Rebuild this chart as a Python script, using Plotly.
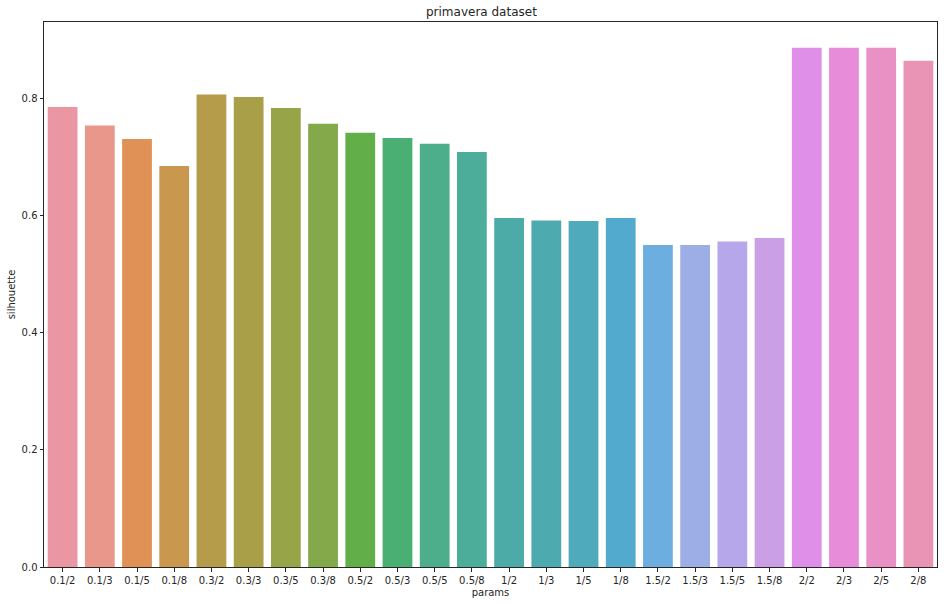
import plotly.graph_objects as go

# silhouette score for each parameter combination
params = ["0.1/2", "0.1/3", "0.1/5", "0.1/8", "0.3/2", "0.3/3", "0.3/5", "0.3/8",
          "0.5/2", "0.5/3", "0.5/5", "0.5/8", "1/2", "1/3", "1/5", "1/8",
          "1.5/2", "1.5/3", "1.5/5", "1.5/8", "2/2", "2/3", "2/5", "2/8"]
silhouette = [0.786, 0.754, 0.731, 0.685, 0.807, 0.803, 0.784, 0.757,
              0.742, 0.733, 0.723, 0.709, 0.596, 0.592, 0.591, 0.596,
              0.550, 0.550, 0.556, 0.562, 0.887, 0.887, 0.887, 0.865]
y_ticks = [0.0, 0.2, 0.4, 0.6, 0.8]

# husl-like palette, desaturated as seaborn does
bar_colors = ["#EA96A3", "#E8978A", "#E09155", "#C9974D", "#B59C4A", "#A89F48",
              "#98A448", "#84A94A", "#62AE48", "#4AAF73", "#4CAE8A", "#4DAD9B",
              "#4CABA6", "#4DABAF", "#4FAABB", "#52ABCE", "#6DAEE1", "#9DADE6",
              "#B5A7EA", "#CA9FE6", "#E08FE8", "#E68CD8", "#E990C4", "#E994B4"]

fig = go.Figure()

fig.add_trace(
    go.Bar(
        x=params,
        y=silhouette,
        width=0.8,
        marker=dict(color=bar_colors, line=dict(width=0)),
        hovertemplate='<b>%{x}</b><br>silhouette: %{y:.3f}<extra></extra>'
    )
)

fig.update_layout(
    width=944,
    height=604,
    paper_bgcolor='white',
    plot_bgcolor='white',
    font=dict(family="DejaVu Sans", size=10, color='#262626'),
    title=dict(text="primavera dataset", x=0.51, xanchor='center',
               y=0.98, yanchor='middle', font=dict(size=12)),
    margin=dict(l=44, r=7, t=22, b=37),
    showlegend=False,
    bargap=0.2,
    xaxis=dict(
        title=dict(text="params", standoff=4, font=dict(size=10)),
        range=[-0.5, 23.5],
        showline=True, linecolor='#262626', linewidth=1, mirror=True,
        ticks='outside', ticklen=3.5, tickcolor='#262626',
        showgrid=False, zeroline=False
    ),
    yaxis=dict(
        title=dict(text="silhouette", standoff=4, font=dict(size=10)),
        range=[0, 0.931],
        tickvals=y_ticks,
        tickformat='.1f',
        showline=True, linecolor='#262626', linewidth=1, mirror=True,
        ticks='outside', ticklen=3.5, tickcolor='#262626',
        showgrid=False, zeroline=False
    )
)

# drop the default page margin so the figure sits at the window's corner
fig.write_html("out.html",
               config=dict(displayModeBar=False),
               post_script="document.body.style.margin='0';"
                           "document.body.style.overflow='hidden';")
